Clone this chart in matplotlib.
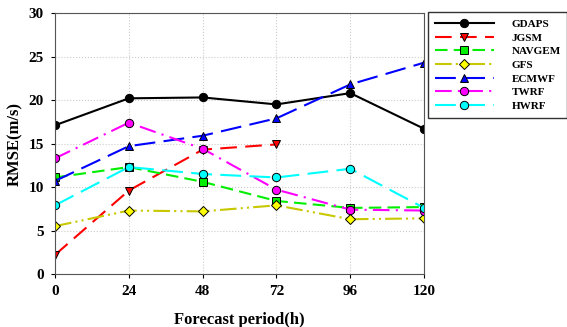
import matplotlib
matplotlib.use("Agg")
import matplotlib.pyplot as plt

plt.rcParams["font.family"] = "Liberation Serif"
plt.rcParams["font.weight"] = "bold"

# ── Données ──────────────────────────────────────────────────────────────────
hours = [0, 24, 48, 72, 96, 120]
gdaps = [17.1, 20.2, 20.3, 19.5, 20.8, 16.7]
jgsm = [2.2, 9.6, 14.3, 14.9]
navgem = [11.1, 12.3, 10.6, 8.4, 7.6, 7.7]
gfs = [5.5, 7.3, 7.2, 7.9, 6.3, 6.4]
ecmwf = [10.7, 14.7, 15.9, 17.9, 21.8, 24.3]
twrf = [13.3, 17.4, 14.4, 9.7, 7.4, 7.3]
hwrf = [7.9, 12.3, 11.5, 11.1, 12.1, 7.6]

fig = plt.figure(figsize=(5.67, 3.27), dpi=100)
ax = fig.add_axes([0.097, 0.162, 0.651, 0.798])

series = [
    ("GDAPS", gdaps, "black", "-", "o", "black"),
    ("JGSM", jgsm, "red", (0, (8, 4)), "v", "red"),
    ("NAVGEM", navgem, "#00ee00", (0, (6, 3)), "s", "#00ee00"),
    ("GFS", gfs, "#c8c800", (0, (8, 2, 1, 2, 1, 2)), "D", "yellow"),
    ("ECMWF", ecmwf, "blue", (0, (10, 4)), "^", "blue"),
    ("TWRF", twrf, "magenta", (0, (8, 3, 1, 3)), "o", "magenta"),
    ("HWRF", hwrf, "cyan", (0, (10, 4)), "o", "cyan"),
]
for name, vals, col, ls, mk, fc in series:
    ax.plot(hours[:len(vals)], vals, color=col, linestyle=ls, linewidth=1.5,
            marker=mk, markersize=6 if mk != "D" else 5, markerfacecolor=fc,
            markeredgecolor="black", markeredgewidth=0.7, label=name)

ax.set_xlim(0, 120)
ax.set_ylim(0, 30)
ax.set_xticks(hours)
ax.set_yticks(range(0, 31, 5))
ax.grid(True, linestyle=":", color="#cccccc", linewidth=0.8)
ax.tick_params(labelsize=11, length=3, pad=5)
for s in ax.spines.values():
    s.set_color("#555555")
ax.set_xlabel("Forecast period(h)", fontsize=12, fontweight="bold", labelpad=10)
ax.set_ylabel("RMSE(m/s)", fontsize=12, fontweight="bold")

fig.legend(loc="upper left", bbox_to_anchor=(0.755, 0.962), fontsize=8,
           frameon=True, fancybox=False, edgecolor="black", handlelength=5.3,
           handletextpad=1.6, borderpad=0.6, labelspacing=0.35,
           borderaxespad=0)

fig.savefig("out.png", dpi=100)
